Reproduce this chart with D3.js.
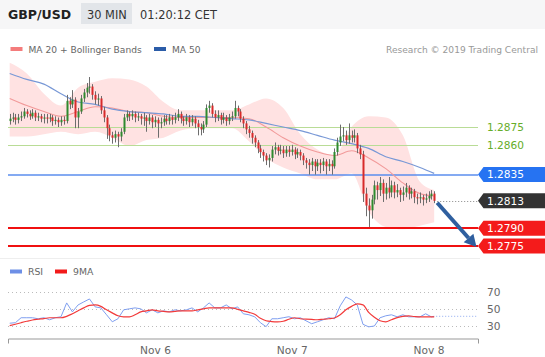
<!DOCTYPE html>
<html>
<head>
<meta charset="utf-8">
<script src="https://cdn.jsdelivr.net/npm/d3@7"></script>
<style>
  body { margin: 0; background: #fff; font-family: "DejaVu Sans", sans-serif; }
  svg { display: block; }
</style>
</head>
<body>
<div id="chart"></div>
<script>
// --- Data ---
// 30 min candles, [open, high, low, close], first one Nov 4 22:30 UTC-ish
const candles = [
  [1.2880,1.2886,1.2877,1.2882],[1.2882,1.2887,1.2879,1.2883],[1.2883,1.2886,1.2877,1.2881],[1.2881,1.2886,1.2878,1.2883],[1.2883,1.2888,1.2880,1.2884],
  [1.2884,1.2891,1.2882,1.2888],[1.2888,1.2890,1.2883,1.2886],[1.2886,1.2889,1.2881,1.2884],[1.2884,1.2890,1.2882,1.2887],[1.2887,1.2889,1.2880,1.2883],
  [1.2883,1.2887,1.2880,1.2884],[1.2884,1.2886,1.2879,1.2882],[1.2882,1.2886,1.2878,1.2883],[1.2883,1.2886,1.2878,1.2882],[1.2882,1.2886,1.2879,1.2883],
  [1.2883,1.2885,1.2876,1.2880],[1.2880,1.2884,1.2877,1.2881],[1.2881,1.2883,1.2875,1.2879],[1.2879,1.2884,1.2876,1.2881],[1.2881,1.2884,1.2877,1.2880],
  [1.2880,1.2902,1.2878,1.2897],[1.2897,1.2900,1.2890,1.2894],[1.2894,1.2906,1.2891,1.2898],[1.2898,1.2900,1.2874,1.2883],[1.2883,1.2891,1.2874,1.2888],
  [1.2888,1.2902,1.2886,1.2899],[1.2899,1.2907,1.2896,1.2904],[1.2904,1.2912,1.2900,1.2908],[1.2908,1.2917,1.2903,1.2909],[1.2909,1.2911,1.2898,1.2902],
  [1.2902,1.2905,1.2894,1.2898],[1.2898,1.2903,1.2893,1.2899],[1.2899,1.2901,1.2886,1.2889],[1.2889,1.2892,1.2879,1.2883],[1.2883,1.2885,1.2865,1.2874],
  [1.2874,1.2877,1.2863,1.2868],[1.2868,1.2871,1.2861,1.2866],[1.2866,1.2872,1.2862,1.2869],[1.2869,1.2871,1.2858,1.2867],[1.2867,1.2874,1.2863,1.2871],
  [1.2871,1.2886,1.2869,1.2883],[1.2883,1.2889,1.2880,1.2886],[1.2886,1.2888,1.2880,1.2884],[1.2884,1.2889,1.2881,1.2886],[1.2886,1.2888,1.2879,1.2883],
  [1.2883,1.2887,1.2880,1.2884],[1.2884,1.2886,1.2877,1.2882],[1.2882,1.2887,1.2876,1.2883],[1.2883,1.2885,1.2871,1.2880],[1.2880,1.2886,1.2877,1.2883],
  [1.2883,1.2885,1.2874,1.2879],[1.2879,1.2884,1.2875,1.2881],[1.2881,1.2883,1.2866,1.2878],[1.2878,1.2883,1.2874,1.2879],[1.2879,1.2885,1.2876,1.2882],
  [1.2882,1.2885,1.2877,1.2880],[1.2880,1.2886,1.2877,1.2883],[1.2883,1.2885,1.2877,1.2881],[1.2881,1.2887,1.2878,1.2883],[1.2883,1.2890,1.2880,1.2886],
  [1.2886,1.2888,1.2878,1.2882],[1.2882,1.2884,1.2876,1.2880],[1.2880,1.2886,1.2877,1.2883],[1.2883,1.2885,1.2875,1.2879],[1.2879,1.2885,1.2876,1.2882],
  [1.2882,1.2884,1.2874,1.2878],[1.2878,1.2881,1.2868,1.2875],[1.2875,1.2878,1.2868,1.2873],[1.2873,1.2880,1.2870,1.2877],[1.2877,1.2894,1.2875,1.2891],
  [1.2891,1.2897,1.2887,1.2893],[1.2893,1.2895,1.2883,1.2886],[1.2886,1.2889,1.2879,1.2883],[1.2883,1.2889,1.2880,1.2885],[1.2885,1.2887,1.2877,1.2881],
  [1.2881,1.2887,1.2878,1.2883],[1.2883,1.2885,1.2876,1.2880],[1.2880,1.2886,1.2877,1.2883],[1.2883,1.2888,1.2880,1.2884],[1.2884,1.2897,1.2882,1.2891],
  [1.2891,1.2893,1.2884,1.2888],[1.2888,1.2890,1.2879,1.2882],[1.2882,1.2884,1.2874,1.2878],[1.2878,1.2880,1.2869,1.2873],[1.2873,1.2876,1.2866,1.2870],
  [1.2870,1.2872,1.2861,1.2866],[1.2866,1.2868,1.2858,1.2862],[1.2862,1.2864,1.2853,1.2857],[1.2857,1.2860,1.2849,1.2854],[1.2854,1.2856,1.2846,1.2851],
  [1.2851,1.2853,1.2843,1.2847],[1.2847,1.2852,1.2841,1.2849],[1.2849,1.2859,1.2846,1.2856],[1.2856,1.2862,1.2852,1.2858],[1.2858,1.2860,1.2851,1.2855],
  [1.2855,1.2860,1.2852,1.2856],[1.2856,1.2859,1.2849,1.2853],[1.2853,1.2859,1.2850,1.2856],[1.2856,1.2859,1.2850,1.2854],[1.2854,1.2860,1.2851,1.2856],
  [1.2856,1.2858,1.2848,1.2852],[1.2852,1.2857,1.2849,1.2854],[1.2854,1.2856,1.2847,1.2851],[1.2851,1.2853,1.2843,1.2847],[1.2847,1.2849,1.2840,1.2845],
  [1.2845,1.2848,1.2835,1.2843],[1.2843,1.2849,1.2838,1.2846],[1.2846,1.2848,1.2835,1.2842],[1.2842,1.2848,1.2838,1.2845],[1.2845,1.2848,1.2836,1.2843],
  [1.2843,1.2849,1.2838,1.2846],[1.2846,1.2848,1.2835,1.2842],[1.2842,1.2848,1.2838,1.2844],[1.2844,1.2847,1.2835,1.2842],[1.2842,1.2857,1.2840,1.2854],
  [1.2854,1.2866,1.2851,1.2862],[1.2862,1.2877,1.2859,1.2867],[1.2867,1.2875,1.2863,1.2868],[1.2868,1.2872,1.2860,1.2864],[1.2864,1.2878,1.2861,1.2868],
  [1.2868,1.2872,1.2862,1.2866],[1.2866,1.2873,1.2862,1.2868],[1.2868,1.2870,1.2853,1.2857],[1.2857,1.2860,1.2848,1.2852],[1.2852,1.2855,1.2812,1.2819],
  [1.2819,1.2824,1.2800,1.2809],[1.2809,1.2815,1.2791,1.2805],[1.2805,1.2818,1.2798,1.2814],[1.2814,1.2830,1.2810,1.2826],[1.2826,1.2829,1.2814,1.2822],
  [1.2822,1.2833,1.2817,1.2828],[1.2828,1.2831,1.2812,1.2819],[1.2819,1.2828,1.2814,1.2824],[1.2824,1.2833,1.2815,1.2820],[1.2820,1.2830,1.2816,1.2826],
  [1.2826,1.2829,1.2815,1.2820],[1.2820,1.2827,1.2816,1.2822],[1.2822,1.2824,1.2812,1.2818],[1.2818,1.2825,1.2813,1.2820],[1.2820,1.2828,1.2816,1.2824],
  [1.2824,1.2826,1.2814,1.2819],[1.2819,1.2824,1.2815,1.2821],[1.2821,1.2823,1.2811,1.2816],[1.2816,1.2819,1.2810,1.2815],[1.2815,1.2820,1.2811,1.2816],
  [1.2816,1.2818,1.2809,1.2814],[1.2814,1.2819,1.2811,1.2815],[1.2815,1.2821,1.2812,1.2817],[1.2817,1.2822,1.2814,1.2819],[1.2819,1.2821,1.2811,1.2813]
];

// moving averages / bands, read at these candle indices
const lineIdx = [0,6,12,18,24,30,36,42,48,54,60,66,72,78,84,90,96,102,108,114,120,126,132,138,144,149];
const ma50 = [1.2920,1.2915,1.2911,1.2903,1.2896,1.2894,1.2890,1.2888,1.2887,1.2886,1.2884,1.2884,1.2883,1.2882,1.2881,1.2878,1.2875,1.2872,1.2868,1.2864,1.2861,1.2857,1.2850,1.2846,1.2841,1.2836];
const ma20 = [1.2899,1.2893,1.2888,1.2884,1.2888,1.2892,1.2891,1.2888,1.2887,1.2884,1.2883,1.2883,1.2883,1.2883,1.2882,1.2875,1.2866,1.2859,1.2854,1.2851,1.2855,1.2849,1.2840,1.2828,1.2819,1.2817];
const bbUpper = [1.2929,1.2920,1.2903,1.2893,1.2908,1.2913,1.2916,1.2915,1.2909,1.2896,1.2889,1.2889,1.2889,1.2889,1.2894,1.2899,1.2891,1.2869,1.2856,1.2851,1.2875,1.2884,1.2883,1.2868,1.2829,1.2822];
const bbLower = [1.2867,1.2867,1.2869,1.2871,1.2869,1.2871,1.2866,1.2859,1.2864,1.2866,1.2872,1.2874,1.2874,1.2874,1.2863,1.2849,1.2841,1.2836,1.2831,1.2831,1.2836,1.2804,1.2791,1.2789,1.2792,1.2795];

// RSI and its 9MA, every second candle plus the last one
const rsiIdx = d3.range(0, 149, 2).concat([149]);
const rsi = [33.3,33.9,39.8,39.8,39.8,38.6,39.8,37.4,39.8,41.0,
  57.4,46.8,55.0,58.6,62.1,52.7,51.5,43.3,35.0,38.6,
  49.2,50.4,51.5,50.4,45.6,49.2,45.6,48.0,46.8,49.2,
  48.0,49.2,51.5,46.8,51.5,57.4,51.5,51.5,55.0,50.4,
  52.7,44.5,43.3,40.9,33.9,29.2,38.6,38.6,39.8,41.0,
  38.6,39.8,36.2,32.7,35.0,37.4,39.8,38.6,53.9,64.5,
  60.9,55.0,32.0,29.0,30.0,39.8,42.1,43.3,40.9,43.3,
  40.9,40.9,40.9,44.5,40.9,41.5];
const rsiMa = [30.4,32.1,33.9,35.6,37.1,38.0,38.8,39.8,39.8,39.8,
  41.5,44.5,48.0,51.5,54.5,55.0,53.3,49.2,45.6,42.1,
  40.9,40.9,43.3,46.8,48.0,49.2,48.0,47.4,46.8,47.4,
  48.0,48.0,48.0,49.2,50.4,51.5,51.5,51.5,51.5,51.5,
  49.8,48.0,46.2,43.9,39.2,36.2,35.3,35.0,35.6,38.0,
  39.8,38.6,38.2,37.8,37.4,38.0,38.6,39.5,43.3,49.2,
  53.3,56.2,55.0,46.2,40.4,36.2,35.0,37.4,40.0,41.5,
  41.9,41.3,40.9,40.9,40.9,40.9];
const rsiLevels = [70, 50, 30];

// support / resistance levels
const levelValues = [1.2875, 1.2860, 1.2835, 1.2813, 1.2790, 1.2775];
const dayTicks = [new Date(Date.UTC(2019, 10, 6)), new Date(Date.UTC(2019, 10, 7)), new Date(Date.UTC(2019, 10, 8))];
const dayLabels = ["Nov 6", "Nov 7", "Nov 8"];

// --- Setup ---
const W = 545, H = 357;
const svg = d3.select("#chart").append("svg").attr("width", W).attr("height", H)
  .style("font-family", "'DejaVu Sans', sans-serif");

const t0 = Date.UTC(2019, 10, 4, 22, 30);
const HALF_HOUR = 30 * 60 * 1000;
const candleTime = i => new Date(t0 + i * HALF_HOUR);

const x = d3.scaleUtc().domain([dayTicks[0], dayTicks[2]]).range([155, 428.5]);
x.domain([x.invert(8), x.invert(478)]).range([8, 478]);
const y = d3.scaleLinear().domain([1.2775, 1.2875]).range([246, 127]);
const yr = d3.scaleLinear().domain([30, 70]).range([326, 292.3]);

// --- Header ---
svg.append("rect").attr("width", W).attr("height", 29).attr("fill", "#f6f6f7");
svg.append("rect").attr("x", 81).attr("y", 3).attr("width", 51).attr("height", 21).attr("fill", "#e2e5e9");
svg.append("text").attr("x", 8).attr("y", 19).attr("font-size", 12.5).attr("font-weight", "bold").attr("fill", "#222").text("GBP/USD");
svg.append("text").attr("x", 87).attr("y", 18.5).attr("font-size", 11.4).attr("fill", "#333").text("30 MIN");
svg.append("text").attr("x", 140).attr("y", 18.5).attr("font-size", 11.4).attr("fill", "#333").text("01:20:12 CET");

// legend
svg.append("rect").attr("x", 10.5).attr("y", 47).attr("width", 12).attr("height", 4).attr("fill", "#f47c7c");
svg.append("text").attr("x", 28.5).attr("y", 52.5).attr("font-size", 9.1).attr("fill", "#666").text("MA 20 + Bollinger Bands");
svg.append("rect").attr("x", 154).attr("y", 47).attr("width", 12).attr("height", 4).attr("fill", "#2b5ca8");
svg.append("text").attr("x", 172).attr("y", 52.5).attr("font-size", 9.1).attr("fill", "#666").text("MA 50");
svg.append("text").attr("x", 538).attr("y", 52.5).attr("text-anchor", "end").attr("font-size", 9.1).attr("fill", "#999")
  .text("Research \u00a9 2019 Trading Central");

// --- Price panel ---
const bandData = lineIdx.map((j, k) => ({ t: candleTime(j), hi: bbUpper[k], lo: bbLower[k], m20: ma20[k], m50: ma50[k] }));

svg.append("path").datum(bandData)
  .attr("d", d3.area().curve(d3.curveMonotoneX).x(d => x(d.t)).y0(d => y(d.lo)).y1(d => y(d.hi)))
  .attr("fill", "#ffe2e2");

const levelStyle = [
  { line: "#b9dc96", w: 1, text: "#66ad29" },
  { line: "#b9dc96", w: 1, text: "#66ad29" },
  { line: "#5b8eee", w: 1.5, tag: "#2673f2", text: "#fff" },
  { line: "#888", w: 1, dash: "1,2", tag: "#333", text: "#fff", fromLast: true },
  { line: "#f01010", w: 2, tag: "#f41b1b", text: "#fff" },
  { line: "#f01010", w: 2, tag: "#f41b1b", text: "#fff" }
];
const lastX = x(candleTime(candles.length - 1));

levelValues.forEach((v, i) => {
  const s = levelStyle[i];
  svg.append("line")
    .attr("x1", s.fromLast ? lastX + 3 : 8).attr("x2", 478)
    .attr("y1", Math.round(y(v)) + (s.w === 1 ? 0.5 : 0)).attr("y2", Math.round(y(v)) + (s.w === 1 ? 0.5 : 0))
    .attr("stroke", s.line).attr("stroke-width", s.w)
    .attr("stroke-dasharray", s.dash || null);
});

// moving averages
svg.append("path").datum(bandData)
  .attr("d", d3.line().curve(d3.curveMonotoneX).x(d => x(d.t)).y(d => y(d.m20)))
  .attr("fill", "none").attr("stroke", "#f29a9a").attr("stroke-width", 1.1);
svg.append("path").datum(bandData)
  .attr("d", d3.line().curve(d3.curveMonotoneX).x(d => x(d.t)).y(d => y(d.m50)))
  .attr("fill", "none").attr("stroke", "#7898d6").attr("stroke-width", 1.2);

// candles
const cg = svg.append("g");
candles.forEach((c, i) => {
  const cx = Math.round(x(candleTime(i)));
  const [o, h, l, cl] = c;
  const up = cl >= o;
  cg.append("line").attr("x1", cx + 0.5).attr("x2", cx + 0.5)
    .attr("y1", y(h)).attr("y2", y(l)).attr("stroke", "#6d6d6d").attr("stroke-width", 1);
  const top = y(Math.max(o, cl)), bot = y(Math.min(o, cl));
  cg.append("rect").attr("x", cx - 0.5).attr("width", 2)
    .attr("y", top).attr("height", Math.max(1, bot - top))
    .attr("fill", up ? "#2f8a2f" : "#d82a2a");
});

// level tags
levelValues.forEach((v, i) => {
  const s = levelStyle[i];
  const yy = y(v);
  if (s.tag) {
    svg.append("path")
      .attr("d", `M478,${yy} L483.5,${yy - 7.5} L545,${yy - 7.5} L545,${yy + 7.5} L483.5,${yy + 7.5} Z`)
      .attr("fill", s.tag);
  }
  svg.append("text").attr("x", 487).attr("y", yy).attr("dy", "0.36em")
    .attr("font-size", 10.6).attr("fill", s.text).text(v.toFixed(4));
});

// forecast arrow: from last close down to the 1.2775 target
const ax0 = lastX + 3, ay0 = y(candles[candles.length - 1][3]) + 2;
const ax1 = 476.5, ay1 = y(levelValues[5]) + 1;
const len = Math.hypot(ax1 - ax0, ay1 - ay0);
const ux = (ax1 - ax0) / len, uy = (ay1 - ay0) / len;
const headL = 12, headW = 6.5;
const bx = ax1 - ux * headL, by = ay1 - uy * headL;
svg.append("line").attr("x1", ax0).attr("y1", ay0).attr("x2", bx).attr("y2", by)
  .attr("stroke", "#2f5f9f").attr("stroke-width", 4);
svg.append("path")
  .attr("d", `M${ax1},${ay1} L${bx - uy * headW},${by + ux * headW} L${bx + uy * headW},${by - ux * headW} Z`)
  .attr("fill", "#2f5f9f");

// --- RSI panel ---
svg.append("line").attr("x1", 0).attr("x2", 480).attr("y1", 258.5).attr("y2", 258.5).attr("stroke", "#eeeeee");

svg.append("rect").attr("x", 10).attr("y", 269.5).attr("width", 12).attr("height", 4).attr("fill", "#6d8fe6");
svg.append("text").attr("x", 28).attr("y", 275).attr("font-size", 9.3).attr("fill", "#666").text("RSI");
svg.append("rect").attr("x", 55).attr("y", 269.5).attr("width", 12).attr("height", 4).attr("fill", "#f21a1a");
svg.append("text").attr("x", 73).attr("y", 275).attr("font-size", 9.3).attr("fill", "#666").text("9MA");

rsiLevels.forEach(v => {
  svg.append("line").attr("x1", 8).attr("x2", 478)
    .attr("y1", Math.round(yr(v)) + 0.5).attr("y2", Math.round(yr(v)) + 0.5)
    .attr("stroke", "#bbb").attr("stroke-dasharray", "1,3");
  svg.append("text").attr("x", 487).attr("y", yr(v)).attr("dy", "0.36em")
    .attr("font-size", 10.6).attr("fill", "#666").text(v);
});

const rsiData = rsiIdx.map((j, k) => ({ t: candleTime(j), v: rsi[k], m: rsiMa[k] }));
const lastRsi = rsiData[rsiData.length - 1];
svg.append("line").attr("x1", x(lastRsi.t) + 2).attr("x2", 478)
  .attr("y1", yr(lastRsi.v)).attr("y2", yr(lastRsi.v))
  .attr("stroke", "#8eaaf0").attr("stroke-dasharray", "1,2");
svg.append("path").datum(rsiData)
  .attr("d", d3.line().x(d => x(d.t)).y(d => yr(d.v)))
  .attr("fill", "none").attr("stroke", "#7f9ff0").attr("stroke-width", 1);
svg.append("path").datum(rsiData)
  .attr("d", d3.line().curve(d3.curveMonotoneX).x(d => x(d.t)).y(d => yr(d.m)))
  .attr("fill", "none").attr("stroke", "#f23a3a").attr("stroke-width", 1.2);

// time axis
const xAxis = d3.axisBottom(x)
  .tickValues(dayTicks)
  .tickFormat((d, i) => dayLabels[i])
  .tickSizeInner(0).tickSizeOuter(5).tickPadding(7.5);
const ax = svg.append("g").attr("transform", "translate(0,338.5)").call(xAxis);
ax.select(".domain").attr("stroke", "#999");
ax.selectAll("text").attr("font-size", 10.6).attr("fill", "#666").attr("font-family", "'DejaVu Sans', sans-serif");
</script>
</body>
</html>
